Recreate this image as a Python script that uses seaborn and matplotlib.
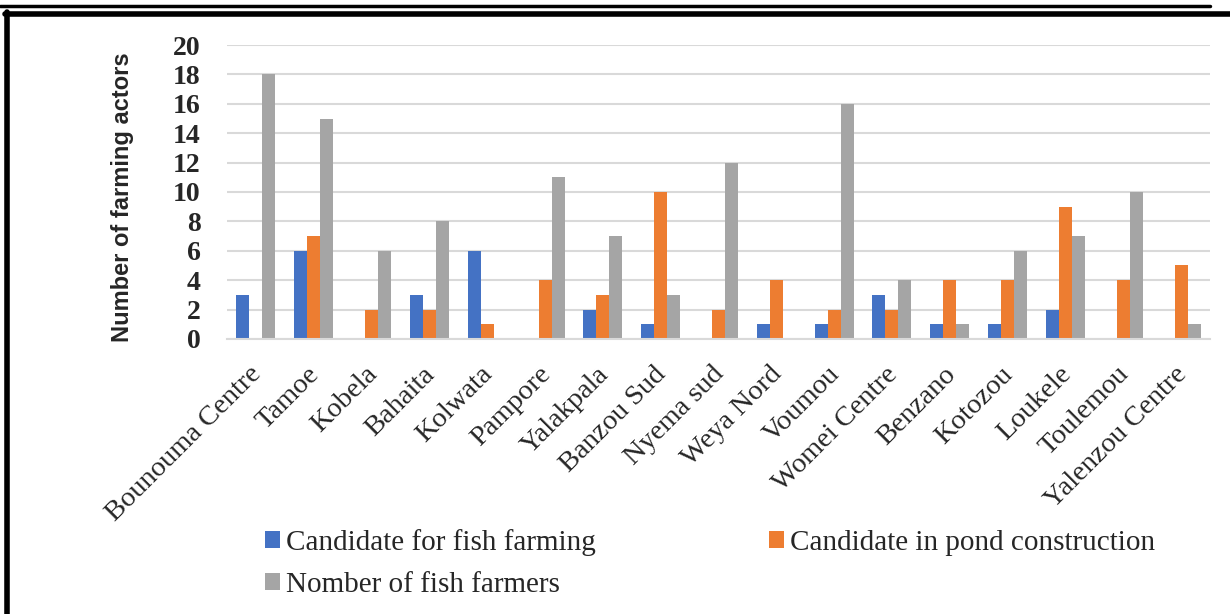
import matplotlib
matplotlib.use("Agg")
import matplotlib.pyplot as plt
import matplotlib.transforms as mtransforms
import seaborn as sns
import pandas as pd
from matplotlib.patches import Patch
from matplotlib.lines import Line2D

villages = ["Bounouma Centre", "Tamoe", "Kobela", "Bahaita", "Kolwata", "Pampore",
            "Yalakpala", "Banzou Sud", "Nyema sud", "Weya Nord", "Voumou",
            "Womei Centre", "Benzano", "Kotozou", "Loukele", "Toulemou",
            "Yalenzou Centre"]
fish_farming_candidates = [3, 6, 0, 3, 6, 0, 2, 1, 0, 1, 1, 3, 1, 1, 2, 0, 0]
pond_construction_candidates = [0, 7, 2, 2, 1, 4, 3, 10, 2, 4, 2, 2, 4, 4, 9, 4, 5]
fish_farmers = [18, 15, 6, 8, 0, 11, 7, 3, 12, 0, 16, 4, 1, 6, 7, 10, 1]

series_names = ["Candidate for fish farming", "Candidate in pond construction",
                "Nomber of fish farmers"]
series_colors = ["#4472C4", "#ED7D31", "#A5A5A5"]
y_ticks = [0, 2, 4, 6, 8, 10, 12, 14, 16, 18, 20]

df = pd.DataFrame({
    "village": villages * 3,
    "series": [series_names[0]] * len(villages) + [series_names[1]] * len(villages)
              + [series_names[2]] * len(villages),
    "count": fish_farming_candidates + pond_construction_candidates + fish_farmers,
})

sns.set_theme(style="white")
plt.rcParams["font.family"] = ["Liberation Serif", "DejaVu Serif"]

fig = plt.figure(figsize=(12.3, 6.14), dpi=100)
ax = fig.add_axes([0.1846, 0.4479, 0.7991, 0.4788])

sns.barplot(data=df, x="village", y="count", hue="series", order=villages,
            hue_order=series_names, palette=series_colors, width=0.675,
            saturation=1, linewidth=0, legend=False, ax=ax)

ax.set_ylim(0, 20)
ax.set_xlim(-0.5, len(villages) - 0.5)
ax.set_yticks(y_ticks)
ax.set_yticklabels([str(t) for t in y_ticks], fontsize=20, fontweight="bold")
ax.tick_params(axis="y", length=0, pad=19)
ax.tick_params(axis="x", length=0, pad=2)
ax.set_xticks(range(len(villages)))
ax.set_xticklabels(villages, rotation=45, ha="right", rotation_mode="anchor",
                   fontsize=20.5)
# nudge the slanted village names down and slightly left
shift = mtransforms.ScaledTranslation(-7 / 100, -20 / 100, fig.dpi_scale_trans)
for lbl in ax.get_xticklabels():
    lbl.set_transform(lbl.get_transform() + shift)
ax.set_xlabel("")
ax.set_ylabel("Number of farming actors", fontsize=17, fontweight="bold",
              family="Liberation Sans")
ax.yaxis.set_label_coords(-0.095, 0.483)

ax.yaxis.grid(True, color="#D9D9D9", linewidth=1.5)
ax.set_axisbelow(True)
for side in ["top", "right", "left"]:
    ax.spines[side].set_visible(False)
ax.spines["bottom"].set_color("#D9D9D9")
ax.spines["bottom"].set_linewidth(1.5)

handles = [Patch(facecolor=series_colors[i], edgecolor="none", label=series_names[i])
           for i in (0, 2, 1)]
fig.legend(handles=handles, ncol=2, loc="upper left", bbox_to_anchor=(0.2154, 0.139),
           frameon=False, fontsize=21, handlelength=0.52, handleheight=0.52,
           handletextpad=0.2, columnspacing=5.95, labelspacing=0.56,
           borderaxespad=0, borderpad=0)

# page frame around the chart
fig.add_artist(Line2D([0.0, 0.984], [0.991, 0.991], color="black", linewidth=2.5,
                      transform=fig.transFigure))
fig.add_artist(Line2D([0.004, 1.0], [0.977, 0.977], color="black", linewidth=4,
                      transform=fig.transFigure))
fig.add_artist(Line2D([0.006, 0.006], [0.0, 0.98], color="black", linewidth=4,
                      transform=fig.transFigure))

fig.savefig("out.png", dpi=100)
